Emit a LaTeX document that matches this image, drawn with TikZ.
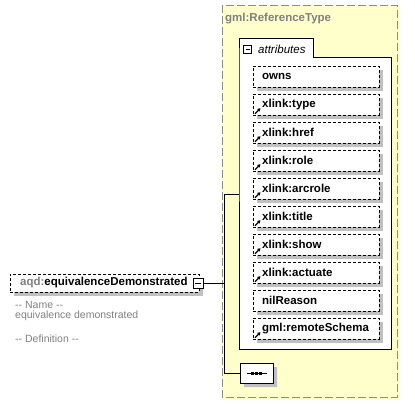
\documentclass[tikz,border=0pt]{standalone}
\usepackage{fontspec}
\setmainfont{Liberation Sans}
\usetikzlibrary{arrows.meta,positioning,calc,shadows,shapes.misc}
\definecolor{cream}{HTML}{FFFFCC}
\definecolor{shade}{HTML}{C0C0C0}
\definecolor{frame}{HTML}{8C8C8C}
\definecolor{muted}{HTML}{808080}
\tikzset{
  every node/.style={font=\fontsize{11.5}{13}\selectfont},
  boxshadow/.style={drop shadow={shadow xshift=4pt,shadow yshift=-4pt,fill=shade,opacity=1}},
  attr/.style={draw=black,dash pattern=on 3pt off 2pt,fill=white,boxshadow,minimum height=21pt,text width=108pt,inner xsep=9pt,inner ysep=0pt,align=left,anchor=west,font=\fontsize{11.5}{13}\selectfont\bfseries},
  elem/.style={draw=black,dash pattern=on 3pt off 2pt,fill=white,boxshadow,minimum height=18pt,text width=169pt,inner xsep=10pt,inner ysep=0pt,align=left,anchor=west,font=\fontsize{11.5}{13}\selectfont\bfseries},
  minus/.style={draw=black,fill=white,minimum size=10pt,inner sep=0pt,path picture={\draw ([xshift=2pt]path picture bounding box.west) -- ([xshift=-2pt]path picture bounding box.east);}},
  refmark/.style={-{Triangle[length=3pt,width=3.5pt]},line width=1.3pt},
  note/.style={text=muted,anchor=west,inner sep=0pt,font=\fontsize{10.5}{12}\selectfont},
}
\begin{document}
\begin{tikzpicture}[x=1pt,y=-1pt]
  \useasboundingbox (0,0) rectangle (415,404);
  % complex type
  \fill[cream] (222,5) rectangle (400,400);
  \draw[frame,dash pattern=on 8pt off 3pt] (222,5) rectangle (397,397);
  \node[anchor=west,inner sep=0pt,text=muted,font=\fontsize{11.5}{13}\selectfont\bfseries] (ctype) at (225,19) {gml:ReferenceType};
  % attributes group
  \draw[fill=white] (239,57) -- (239,38) -- (313,38) -- (313,57) -- (391,57) -- (391,349) -- (239,349) -- cycle;
  \node[minus,minimum size=8pt] (attrmin) at (247.5,49.5) {};
  \node[anchor=west,inner sep=0pt,font=\fontsize{11.5}{13}\selectfont\itshape] (attrlbl) at (258,49) {attributes};
  \coordinate (attrs) at (239,194);
  \foreach \i/\name/\ref in {1/owns/0,2/xlink:type/1,3/xlink:href/1,4/xlink:role/1,5/xlink:arcrole/1,6/xlink:title/1,7/xlink:show/1,8/xlink:actuate/1,9/nilReason/0,10/gml:remoteSchema/1} {
    \node[attr] (a\i) at (253,{76.5+28*(\i-1)}) {\name};
    \ifnum\ref=1
      \draw[refmark] ($(a\i.south west)+(2,-1.5)$) -- ++(5.5,-5.5);
    \fi
  }
  % sequence
  \node[draw=black,fill=white,boxshadow,minimum width=33pt,minimum height=20pt,inner sep=0pt,chamfered rectangle,chamfered rectangle xsep=4pt,chamfered rectangle ysep=4pt] (seq) at (256.5,373) {};
  \draw[line width=0.8pt] ($(seq.center)+(-10,0)$) -- ($(seq.center)+(10,0)$);
  \foreach \dx in {-4,0,4} \fill ($(seq.center)+(\dx-1.5,-1.5)$) rectangle ++(3,3);
  % element
  \node[elem] (elem) at (10,283) {\textcolor{muted}{aqd:}equivalenceDemonstrated};
  \node[minus] (elemmin) at (198,283.5) {};
  \node[note] (name) at (15,305) {{-}{-} Name {-}{-}};
  \node[note] (namev) at (15,316) {equivalence demonstrated};
  \node[note] (defn) at (15,339) {{-}{-} Definition {-}{-}};
  % connectors
  \coordinate (fork) at (224,283.5);
  \draw (elemmin.east) -- (fork);
  \draw (attrs -| fork) -- (attrs);
  \draw (attrs -| fork) -- (seq.west -| fork) -- (seq.west);
\end{tikzpicture}
\end{document}
